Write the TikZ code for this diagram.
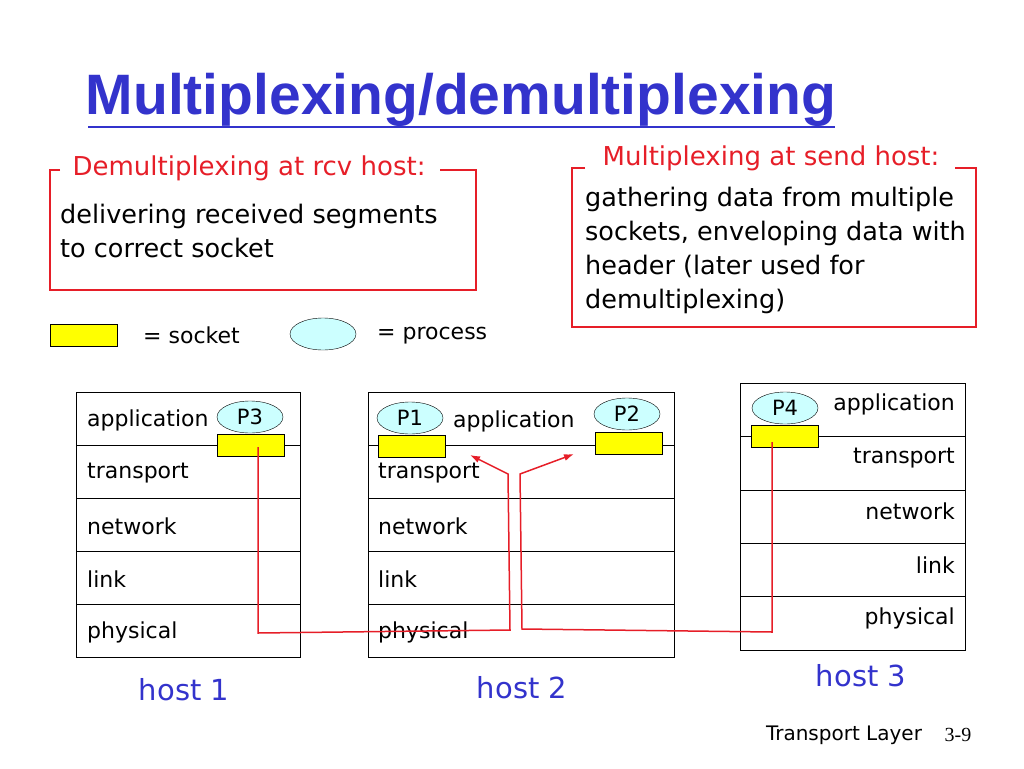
\documentclass[tikz,border=0pt]{standalone}
\usepackage{fontspec}
\setmainfont{DejaVu Sans}
\newfontfamily\titlefont{Liberation Sans}
\newfontfamily\footfont{Liberation Serif}
\usetikzlibrary{arrows.meta,shapes.geometric}
\definecolor{titleblue}{RGB}{51,51,204}
\definecolor{boxred}{RGB}{230,30,40}
\definecolor{sockyellow}{RGB}{255,255,0}
\definecolor{proccyan}{RGB}{204,255,255}
\tikzset{
  txt/.style={inner sep=0pt, anchor=west, font=\fontsize{25.5}{34}\selectfont},
  small/.style={font=\fontsize{22}{26}\selectfont},
  layer/.style={draw, line width=0.6pt, minimum height=53pt, inner sep=0pt},
  socket/.style={draw, fill=sockyellow, minimum width=67pt, minimum height=22pt, inner sep=0pt},
  proc/.style={ellipse, draw, fill=proccyan, minimum width=66pt, minimum height=32pt, inner sep=0pt, font=\fontsize{21}{24}\selectfont},
  hostlbl/.style={text=titleblue, font=\fontsize{29}{34}\selectfont},
  demux/.style={draw=boxred, line width=1.5pt, -{Latex[length=10pt,width=7pt]}}
}
\begin{document}
\begin{tikzpicture}[x=1pt,y=-1pt]
\useasboundingbox (0,0) rectangle (1024,768);
% title
\node (title) at (461,100) [text=titleblue, font=\titlefont\bfseries\fontsize{57}{60}\selectfont] {Multiplexing/demultiplexing};
\draw [titleblue, line width=2pt] (88,127) -- (835,127);
% info boxes
\draw [boxred, line width=1.5pt] (60,170) -- (50,170) -- (50,290) -- (476,290) -- (476,170) -- (440,170);
\node (rcvlbl) at (249,168) [text=boxred, font=\fontsize{26}{30}\selectfont] {Demultiplexing at rcv host:};
\node (rcvtxt) at (60,231) [txt, align=left] {delivering received segments\\to correct socket};
\draw [boxred, line width=1.5pt] (585,168) -- (572,168) -- (572,327) -- (976,327) -- (976,168) -- (955,168);
\node (sndlbl) at (771,158) [text=boxred, font=\fontsize{26}{30}\selectfont] {Multiplexing at send host:};
\node (sndtxt) at (585,250) [txt, align=left] {gathering data from multiple\\sockets, enveloping data with\\header (later used for\\demultiplexing)};
% legend
\node (lsock) at (84,335) [socket] {};
\node (lsocktxt) at (143,335) [txt, small] {= socket};
\node (lproc) at (323,334) [proc] {};
\node (lproctxt) at (377,336) [txt, small] {= process};
% host 1
\foreach \name [count=\i] in {application,transport,network,link,physical}
  \node (ha\i) at (188,{392+53*(\i-0.5)}) [layer, minimum width=224pt] {};
\foreach \name [count=\i] in {application,transport,network,link,physical}
  \node at (87,{392+53*(\i-0.5)+2}) [txt, small] {\name};
% host 2
\foreach \name [count=\i] in {application,transport,network,link,physical}
  \node (hb\i) at (521,{392+53*(\i-0.5)}) [layer, minimum width=306pt] {};
\foreach \name [count=\i] in {transport,network,link,physical}
  \node at (378,{445+53*(\i-0.5)+2}) [txt, small] {\name};
\node at (453,421) [txt, small] {application};
% host 3
\foreach \name [count=\i] in {application,transport,network,link,physical}
  \node (hc\i) at (852.5,{383+53.4*(\i-0.5)}) [layer, minimum width=225pt, minimum height=53.4pt] {};
\foreach \name [count=\i] in {application,transport,network,link,physical}
  \node at (955,{383+53.4*(\i-0.5)-5}) [txt, anchor=east, small] {\name};
% sockets and processes
\node (s3) at (251,445) [socket] {};
\node (p3) at (250,417) [proc] {P3};
\node (s1) at (412,446) [socket] {};
\node (p1) at (410,418) [proc] {P1};
\node (s2) at (629,443) [socket] {};
\node (p2) at (627,414) [proc] {P2};
\node (s4) at (785,436) [socket] {};
\node (p4) at (785,408) [proc] {P4};
% turning points
\coordinate (c1) at (510,630);
\coordinate (c2) at (508,474);
\coordinate (t1) at (470,455);
\coordinate (c3) at (522,629);
\coordinate (c4) at (520,474);
\coordinate (t2) at (574,454);
\draw [demux] (258,447) -- (258,633) -- (c1) -- (c2) -- (t1);
\draw [demux] (772,442) -- (772,632) -- (c3) -- (c4) -- (t2);
% host labels
\node (h1) at (184,690) [hostlbl] {host 1};
\node (h2) at (522,688) [hostlbl] {host 2};
\node (h3) at (861,676) [hostlbl] {host 3};
\node (foot) at (844,735) [small, font=\fontsize{20}{24}\selectfont] {Transport Layer};
\node (page) at (958,735) [font=\footfont\fontsize{20}{24}\selectfont] {3-9};
\end{tikzpicture}
\end{document}
